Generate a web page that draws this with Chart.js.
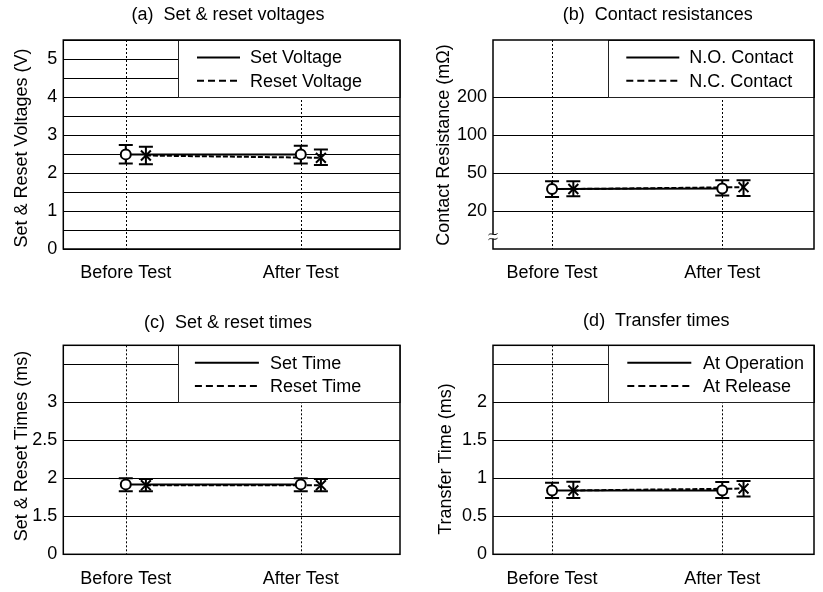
<!DOCTYPE html>
<html>
<head>
<meta charset="utf-8">
<script src="https://cdn.jsdelivr.net/npm/chart.js@4.4.1/dist/chart.umd.min.js"></script>
<style>
  html, body { margin: 0; padding: 0; background: #fff; }
  #wrap { position: relative; width: 823px; height: 592px; background: #fff; }
  canvas { position: absolute; display: block; }
</style>
</head>
<body>
<div id="wrap">
  <canvas id="ca" width="411" height="296" style="left:0;top:0;width:411px;height:296px"></canvas>
  <canvas id="cb" width="412" height="296" style="left:411px;top:0;width:412px;height:296px"></canvas>
  <canvas id="cc" width="411" height="296" style="left:0;top:296px;width:411px;height:296px"></canvas>
  <canvas id="cd" width="412" height="296" style="left:411px;top:296px;width:412px;height:296px"></canvas>
</div>
<script>
// ---------------- DATA ----------------
const categories = ['Before Test', 'After Test'];

// (a) Set & reset voltages (V)
const setVoltage       = [2.49, 2.49];
const setVoltageLow    = [2.25, 2.25];
const setVoltageHigh   = [2.74, 2.72];
const resetVoltage     = [2.46, 2.40];
const resetVoltageLow  = [2.23, 2.21];
const resetVoltageHigh = [2.69, 2.62];
const voltageTickLabels = ['0', '1', '2', '3', '4', '5'];

// (b) Contact resistances (mOhm)
const noContact      = [34, 34.5];
const noContactLow   = [28, 29];
const noContactHigh  = [41, 42];
const ncContact      = [34, 35.5];
const ncContactLow   = [28.5, 28.7];
const ncContactHigh  = [41, 42];
const resistanceTicks = [20, 50, 100, 200];

// (c) Set & reset times (ms)
const setTime        = [1.92, 1.92];
const setTimeLow     = [1.83, 1.83];
const setTimeHigh    = [2.0, 2.0];
const resetTime      = [1.91, 1.91];
const resetTimeLow   = [1.83, 1.83];
const resetTimeHigh  = [1.99, 1.99];
const timeTicks = [0, 1.5, 2, 2.5, 3];

// (d) Transfer times (ms)
const atOperation     = [0.84, 0.84];
const atOperationLow  = [0.74, 0.74];
const atOperationHigh = [0.94, 0.95];
const atRelease       = [0.84, 0.865];
const atReleaseLow    = [0.74, 0.76];
const atReleaseHigh   = [0.955, 0.965];
const transferTicks = [0, 0.5, 1, 1.5, 2];

// ---------------- HELPERS ----------------
const FAMILY = '"Liberation Sans", Arial, Helvetica, sans-serif';
const FONT = '18px ' + FAMILY;
Chart.defaults.font.family = FAMILY;
Chart.defaults.font.size = 18;
Chart.defaults.color = '#000';

// piecewise mapping of a value onto an equally spaced (broken) axis
function brokenIndex(v, ticks, startIdx, useLog) {
  for (let i = 0; i < ticks.length - 1; i++) {
    const a = ticks[i], b = ticks[i + 1];
    if (v <= b || i === ticks.length - 2) {
      const f = useLog ? Math.log(v / a) / Math.log(b / a) : (v - a) / (b - a);
      return startIdx + i + f;
    }
  }
  return startIdx;
}
const mapA = v => v;
const mapB = v => brokenIndex(v, resistanceTicks, 1, true);
const mapC = v => brokenIndex(v, timeTicks, 0, false);
const mapD = v => v;

// tick lists (value on scale, label, draw grid)
const ticksA = [];
for (let k = 0; k <= 11; k++) ticksA.push({ value: k * 0.5, label: k % 2 === 0 ? voltageTickLabels[k / 2] : '', grid: true });
const ticksB = [{ value: 0, label: '', grid: false }]
  .concat(resistanceTicks.map((t, i) => ({ value: i + 1, label: String(t), grid: true })));
const ticksC = timeTicks.map((t, i) => ({ value: i, label: String(t), grid: true }))
  .concat([{ value: 5, label: '', grid: true }]);
const ticksD = transferTicks.map(t => ({ value: t, label: String(t), grid: true }))
  .concat([{ value: 2.5, label: '', grid: true }]);

function makePanel(id, cfg) {
  const map = cfg.map;
  const s0 = cfg.series[0], s1 = cfg.series[1];
  const ds0 = {
    label: s0.label,
    data: s0.v.map((v, i) => ({ x: i, y: map(v) })),
    borderColor: '#000', borderWidth: 2, showLine: true,
    pointStyle: 'circle', pointRadius: 5, pointBorderWidth: 2,
    pointBackgroundColor: '#fff', pointBorderColor: '#000', tension: 0
  };
  const ds1 = {
    label: s1.label,
    data: s1.v.map((v, i) => ({ x: i + cfg.xOff, y: map(v) })),
    borderColor: '#000', borderWidth: 2, borderDash: [5, 2], showLine: true,
    pointStyle: 'crossRot', pointRadius: 7, pointBorderWidth: 2,
    pointBackgroundColor: '#000', pointBorderColor: '#000', tension: 0
  };

  const plugin = {
    id: 'panel_' + id,
    beforeDatasetsDraw(chart) {
      const { ctx, chartArea: a, scales: { x, y } } = chart;
      ctx.save();
      // dotted category lines
      ctx.strokeStyle = '#000';
      ctx.lineWidth = 1;
      ctx.setLineDash([2, 2]);
      [0, 1].forEach(v => {
        const px = Math.round(x.getPixelForValue(v)) + 0.5;
        ctx.beginPath(); ctx.moveTo(px, a.top); ctx.lineTo(px, a.bottom); ctx.stroke();
      });
      ctx.setLineDash([]);
      // legend box
      const bl = a.left + 115, bt = a.top, br = a.right, bb = a.top + 57;
      ctx.fillStyle = '#fff';
      ctx.fillRect(bl, bt, br - bl, bb - bt);
      ctx.strokeStyle = '#222';
      ctx.lineWidth = 1;
      ctx.strokeRect(Math.round(bl) + 0.5, Math.round(bt) + 0.5, br - bl, Math.round(bb - bt));
      const lg = cfg.legend;
      [s0, s1].forEach((s, i) => {
        const ry = bt + 17.5 + i * 23.2;
        ctx.strokeStyle = '#000';
        ctx.lineWidth = 2;
        ctx.setLineDash(i === 0 ? [] : [7, 4]);
        ctx.beginPath();
        ctx.moveTo(bl + lg.start, ry); ctx.lineTo(bl + lg.start + lg.len, ry); ctx.stroke();
        ctx.setLineDash([]);
        ctx.fillStyle = '#000';
        ctx.font = FONT;
        ctx.textAlign = 'left';
        ctx.textBaseline = 'middle';
        ctx.fillText(s.label, bl + lg.start + lg.len + lg.gap, ry + 1);
      });
      // frame
      ctx.strokeStyle = '#000';
      ctx.lineWidth = 1.5;
      ctx.strokeRect(a.left, a.top, a.right - a.left, a.bottom - a.top);
      // error bars
      ctx.lineWidth = 2;
      [[s0, 0], [s1, cfg.xOff]].forEach(([s, off]) => {
        s.v.forEach((v, i) => {
          const px = x.getPixelForValue(i + off);
          const yl = y.getPixelForValue(map(s.lo[i]));
          const yh = y.getPixelForValue(map(s.hi[i]));
          ctx.beginPath();
          ctx.moveTo(px, yh); ctx.lineTo(px, yl);
          ctx.moveTo(px - 7, yh); ctx.lineTo(px + 7, yh);
          ctx.moveTo(px - 7, yl); ctx.lineTo(px + 7, yl);
          ctx.stroke();
        });
      });
      ctx.restore();
    },
    afterDraw(chart) {
      const { ctx, chartArea: a } = chart;
      ctx.save();
      ctx.fillStyle = '#000';
      ctx.font = FONT;
      ctx.textAlign = 'center';
      ctx.textBaseline = 'middle';
      ctx.fillText(cfg.title, cfg.titlePos[0], cfg.titlePos[1]);
      ctx.translate(cfg.yTitlePos[0], cfg.yTitlePos[1]);
      ctx.rotate(-Math.PI / 2);
      ctx.fillText(cfg.yTitle, 0, 0);
      ctx.restore();
      if (cfg.brk) {
        ctx.save();
        const lx = a.left;
        ctx.fillStyle = '#fff';
        ctx.fillRect(lx - 3, 234.5, 6, 4);
        ctx.strokeStyle = '#000';
        ctx.lineWidth = 1;
        [234, 238.7].forEach(cy => {
          ctx.beginPath();
          ctx.moveTo(lx - 4.5, cy + 1);
          ctx.bezierCurveTo(lx - 2, cy - 2, lx + 1, cy + 2.5, lx + 4.5, cy - 0.5);
          ctx.stroke();
        });
        ctx.restore();
      }
    }
  };

  const yt = cfg.yTicks;
  return new Chart(document.getElementById(id), {
    type: 'line',
    data: { datasets: [ds0, ds1] },
    plugins: [plugin],
    options: {
      responsive: false,
      animation: false,
      devicePixelRatio: 1,
      events: [],
      layout: { padding: { left: 0, top: cfg.padTop, right: cfg.padRight, bottom: 0 } },
      plugins: { legend: { display: false }, tooltip: { enabled: false }, title: { display: false } },
      scales: {
        x: {
          type: 'linear', min: cfg.xMin, max: cfg.xMax,
          afterBuildTicks: s => { s.ticks = categories.map((c, i) => ({ value: i })); },
          afterFit: s => { s.height = cfg.xHeight; },
          grid: { display: false, drawTicks: false },
          border: { display: false },
          ticks: {
            autoSkip: false, maxRotation: 0, padding: 13.5, color: '#000',
            font: { size: 18, family: FAMILY },
            callback: (v, i) => categories[i]
          }
        },
        y: {
          type: 'linear', min: 0, max: cfg.yMax,
          afterBuildTicks: s => { s.ticks = yt.map(t => ({ value: t.value })); },
          afterFit: s => { s.width = cfg.yWidth; },
          grid: {
            drawTicks: false, lineWidth: 1,
            color: c => (yt[c.index] && yt[c.index].grid) ? '#000' : 'rgba(0,0,0,0)'
          },
          border: { display: false },
          ticks: {
            autoSkip: false, padding: 6, color: '#000',
            font: { size: 18, family: FAMILY },
            callback: (v, i) => yt[i] ? yt[i].label : ''
          }
        }
      }
    }
  });
}

makePanel('ca', {
  title: '(a)  Set & reset voltages', titlePos: [228, 15],
  yTitle: 'Set & Reset Voltages (V)', yTitlePos: [22.5, 148],
  padTop: 40, padRight: 11, yWidth: 63.3, xHeight: 47,
  xMin: -0.357, xMax: 1.567, xOff: 0.115,
  yMax: 5.5, yTicks: ticksA, map: mapA,
  series: [
    { label: 'Set Voltage', v: setVoltage, lo: setVoltageLow, hi: setVoltageHigh },
    { label: 'Reset Voltage', v: resetVoltage, lo: resetVoltageLow, hi: resetVoltageHigh }
  ],
  legend: { start: 18.7, len: 43, gap: 10 }, brk: false
});

makePanel('cb', {
  title: '(b)  Contact resistances', titlePos: [246.7, 15],
  yTitle: 'Contact Resistance (mΩ)', yTitlePos: [33.3, 145],
  padTop: 40, padRight: 0, yWidth: 82, xHeight: 47,
  xMin: -0.347, xMax: 1.539, xOff: 0.125,
  yMax: 5.5, yTicks: ticksB, map: mapB,
  series: [
    { label: 'N.O. Contact', v: noContact, lo: noContactLow, hi: noContactHigh },
    { label: 'N.C. Contact', v: ncContact, lo: ncContactLow, hi: ncContactHigh }
  ],
  legend: { start: 18.3, len: 53, gap: 10 }, brk: true
});

makePanel('cc', {
  title: '(c)  Set & reset times', titlePos: [228, 26.7],
  yTitle: 'Set & Reset Times (ms)', yTitlePos: [22.5, 150],
  padTop: 49.3, padRight: 11, yWidth: 63.3, xHeight: 37.7,
  xMin: -0.357, xMax: 1.567, xOff: 0.115,
  yMax: 5.5, yTicks: ticksC, map: mapC,
  series: [
    { label: 'Set Time', v: setTime, lo: setTimeLow, hi: setTimeHigh },
    { label: 'Reset Time', v: resetTime, lo: resetTimeLow, hi: resetTimeHigh }
  ],
  legend: { start: 16.6, len: 64, gap: 11 }, brk: false
});

makePanel('cd', {
  title: '(d)  Transfer times', titlePos: [245.3, 25.5],
  yTitle: 'Transfer Time (ms)', yTitlePos: [35, 163],
  padTop: 49.3, padRight: 0, yWidth: 82, xHeight: 37.7,
  xMin: -0.347, xMax: 1.539, xOff: 0.125,
  yMax: 2.75, yTicks: ticksD, map: mapD,
  series: [
    { label: 'At Operation', v: atOperation, lo: atOperationLow, hi: atOperationHigh },
    { label: 'At Release', v: atRelease, lo: atReleaseLow, hi: atReleaseHigh }
  ],
  legend: { start: 19.3, len: 64, gap: 11.7 }, brk: false
});
</script>
</body>
</html>
